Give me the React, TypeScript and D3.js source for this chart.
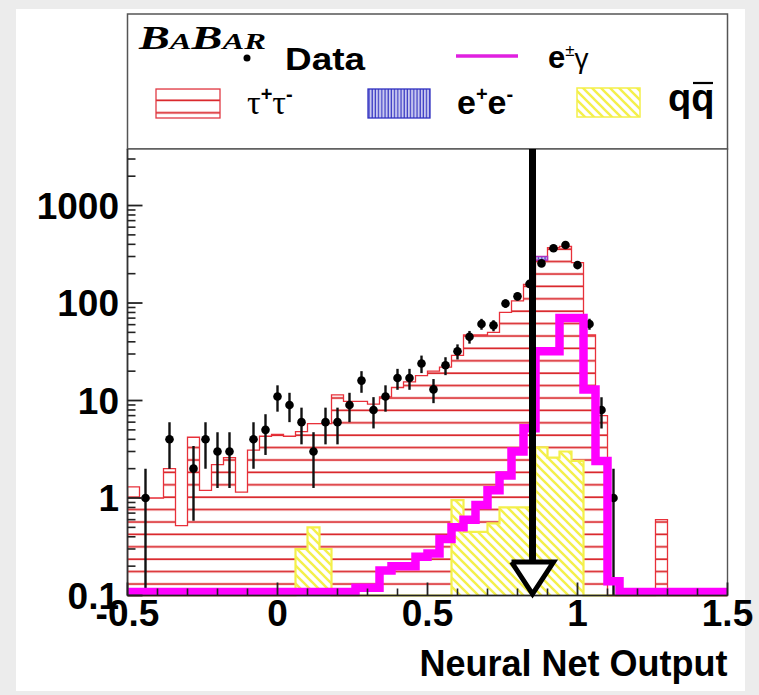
import React from "react";
import * as d3 from "d3";

// ---------- data ----------
const binStart = -0.5;
const binWidth = 0.04;

// tau+tau- MC (red, horizontal hatch), 50 bins of 0.04 from -0.5 to 1.5
const tauValues = [
  1.3, 1.0, 1.0, 2.0, 0.52, 4.2, 1.2, 2.2, 2.6, 1.15,
  3.1, 4.3, 4.5, 4.3, 4.8, 5.8, 5.8, 11.4, 9.8, 9.8,
  9.2, 10.9, 13.6, 15.5, 18, 20, 22, 29, 47, 47,
  50, 80, 105, 155, 275, 370, 380, 260, 47, 7,
  0, 0, 0, 0, 0.6, 0, 0, 0, 0, 0,
];
// e+e- MC stacked on top of tau (blue, vertical hatch)
const eeValues = [
  0, 0, 0, 0, 0, 0, 0, 0, 0, 0,
  0, 0, 0, 0, 0, 0, 0, 0, 0, 0,
  0, 0, 0, 0, 0, 0, 0, 0, 0, 0,
  0, 0, 0, 0, 25, 0, 0, 0, 0, 0,
  0, 0, 0, 0, 0, 0, 0, 0, 0, 0,
];
// q qbar MC (yellow, diagonal hatch)
const qqValues = [
  0, 0, 0, 0, 0, 0, 0, 0, 0, 0,
  0, 0, 0, 0, 0.3, 0.5, 0.3, 0, 0, 0,
  0, 0, 0, 0, 0, 0, 0, 0.95, 0.45, 0.45,
  0.55, 0.8, 0.8, 0.8, 3.3, 2.6, 3.0, 2.4, 0, 0,
  0, 0, 0, 0, 0, 0, 0, 0, 0, 0,
];
// e gamma signal (magenta thick line)
const eGammaValues = [
  0.1, 0.1, 0.1, 0.1, 0.1, 0.1, 0.1, 0.1, 0.1, 0.1,
  0.1, 0.1, 0.1, 0.1, 0.1, 0.1, 0.1, 0.1, 0.1, 0.12,
  0.12, 0.18, 0.2, 0.2, 0.25, 0.27, 0.38, 0.5, 0.6, 0.85,
  1.2, 1.7, 3.0, 5.2, 32, 32, 70, 70, 13, 2.4,
  0.14, 0.1, 0.1, 0.1, 0.1, 0.1, 0.1, 0.1, 0.1, 0.1,
];
// Data counts (0 = no entry)
const dataCounts = [
  0, 1, 0, 4, 0, 2, 4, 3, 3, 0,
  4, 5, 11, 9, 6, 3, 6, 6, 9, 16,
  8, 11, 17, 17, 24, 13, 23, 32, 45, 61,
  59, 99, 117, 157, 255, 364, 393, 245, 61, 8,
  1, 0, 0, 0, 0, 0, 0, 0, 0, 0,
];

const xTickValues = [-0.5, 0, 0.5, 1, 1.5];
const xTickLabels = ["-0.5", "0", "0.5", "1", "1.5"];
const yTickValues = [0.1, 1, 10, 100, 1000];
const yTickLabels = ["0.1", "1", "10", "100", "1000"];
const cutValue = 0.85;
const xTitle = "Neural Net Output";

// ---------- layout ----------
const W = 759;
const H = 695;
const frame = { left: 127.5, right: 727.5, top: 149, bottom: 595.5 };
const legendTop = 14;
const FONT = "'Liberation Sans', Arial, Helvetica, sans-serif";
const SERIF = "'Liberation Serif', 'Times New Roman', serif";

export default function App() {
  const x = d3.scaleLinear().domain([-0.5, 1.5]).range([frame.left, frame.right]);
  const y = d3.scaleLog().domain([0.1, 3800]).range([frame.bottom, frame.top]);
  const yc = (v: number) => (v <= 0.1 ? frame.bottom : Math.max(frame.top, y(v)));
  const edge = (i: number) => x(binStart + i * binWidth);
  const center = (i: number) => x(binStart + (i + 0.5) * binWidth);

  const line = d3.line<[number, number]>();

  const stepArea = (vals: number[]) => {
    const pts: [number, number][] = [[edge(0), frame.bottom]];
    vals.forEach((v, i) => {
      pts.push([edge(i), yc(v)]);
      pts.push([edge(i + 1), yc(v)]);
    });
    pts.push([edge(vals.length), frame.bottom]);
    return line(pts) as string;
  };

  const pinkPts: [number, number][] = [];
  eGammaValues.forEach((v, i) => {
    const yy = Math.min(yc(v), frame.bottom - 3.5);
    pinkPts.push([edge(i), yy]);
    pinkPts.push([edge(i + 1), yy]);
  });

  const yMinor: number[] = [];
  yTickValues.forEach((d) => {
    for (let m = 2; m <= 9; m++) if (d * m <= 3800) yMinor.push(d * m);
  });
  const xMinor = d3.range(-4, 15).map((k) => k / 10).filter((v) => Math.abs(v * 2 - Math.round(v * 2)) > 1e-6);

  const cx = x(cutValue);

  return (
    <svg
      width={W}
      height={H}
      style={{ position: "absolute", left: 0, top: 0 }}
      xmlns="http://www.w3.org/2000/svg"
    >
      <defs>
        <pattern id="hatchRed" patternUnits="userSpaceOnUse" width={10} height={12.4}>
          <line x1={0} x2={10} y1={1.2} y2={1.2} stroke="#d81e22" strokeWidth={1.7} />
        </pattern>
        <pattern id="hatchYellow" patternUnits="userSpaceOnUse" width={9} height={9}>
          <rect width={9} height={9} fill="#ffffff" />
          <line x1={-1} y1={-1} x2={10} y2={10} stroke="#f4f04a" strokeWidth={2.4} />
          <line x1={-1} y1={8} x2={1} y2={10} stroke="#f4f04a" strokeWidth={2.4} />
          <line x1={8} y1={-1} x2={10} y2={1} stroke="#f4f04a" strokeWidth={2.4} />
        </pattern>
        <pattern id="hatchBlue" patternUnits="userSpaceOnUse" width={3.2} height={10}>
          <rect width={3.2} height={10} fill="#c8c8f0" />
          <line x1={1} x2={1} y1={0} y2={10} stroke="#3030c0" strokeWidth={1.1} />
        </pattern>
        <clipPath id="frameClip">
          <rect x={frame.left} y={frame.top} width={frame.right - frame.left} height={frame.bottom - frame.top + 6} />
        </clipPath>
      </defs>

      {/* page background */}
      <rect x={0} y={0} width={W} height={H} fill="#ececec" />
      <rect x={16} y={9} width={729} height={682} fill="#ffffff" />

      {/* legend box */}
      <rect x={frame.left} y={legendTop} width={frame.right - frame.left} height={frame.top - legendTop} fill="#fff" stroke="#555" strokeWidth={1.5} />
      <text x={139} y={49} fontFamily={SERIF} fontStyle="italic" fontWeight="bold" textLength={127} lengthAdjust="spacingAndGlyphs">
        <tspan fontSize={34}>B</tspan>
        <tspan fontSize={24}>A</tspan>
        <tspan fontSize={34}>B</tspan>
        <tspan fontSize={24}>AR</tspan>
      </text>
      <circle cx={247} cy={58} r={3.5} fill="#000" />
      <text x={285} y={70} fontFamily={FONT} fontWeight="bold" fontSize={31} textLength={80} lengthAdjust="spacingAndGlyphs">Data</text>
      <line x1={456} x2={518} y1={56} y2={56} stroke="#e020e0" strokeWidth={3.5} />
      <text x={548} y={68} fontFamily={FONT} fontWeight="bold" fontSize={31}>
        e<tspan fontSize={17} dy={-12} fontWeight="normal">±</tspan>
        <tspan fontSize={28} dy={12} fontWeight="normal">γ</tspan>
      </text>

      <rect x={156} y={89} width={64} height={29} fill="url(#hatchRed)" stroke="#e03a44" strokeWidth={1.3} />
      <text x={247} y={114} fontFamily={SERIF} fontSize={34}>
        τ<tspan fontSize={20} dy={-13} fontFamily={FONT} fontWeight="bold">+</tspan>
        <tspan dy={13}>τ</tspan>
        <tspan fontSize={20} dy={-13} fontFamily={FONT} fontWeight="bold">-</tspan>
      </text>
      <rect x={368} y={89} width={62} height={29} fill="url(#hatchBlue)" stroke="#3030c0" strokeWidth={1.3} />
      <text x={457} y={114} fontFamily={FONT} fontWeight="bold" fontSize={34}>
        e<tspan fontSize={20} dy={-13}>+</tspan>
        <tspan dy={13}>e</tspan>
        <tspan fontSize={20} dy={-13}>-</tspan>
      </text>
      <rect x={577} y={88} width={63} height={29} fill="url(#hatchYellow)" stroke="#f4f04a" strokeWidth={1.5} />
      <text x={668} y={111} fontFamily={FONT} fontWeight="bold" fontSize={38}>qq</text>
      <line x1={693} x2={713} y1={83} y2={83} stroke="#000" strokeWidth={2.2} />

      {/* plot frame background */}
      <rect x={frame.left} y={frame.top} width={frame.right - frame.left} height={frame.bottom - frame.top} fill="#fff" />

      <g clipPath="url(#frameClip)">
        {/* tau+tau- */}
        <path d={stepArea(tauValues)} fill="url(#hatchRed)" stroke="none" />
        <path d={stepArea(tauValues)} fill="none" stroke="#e8303a" strokeWidth={1.3} />
        {/* e+e- stacked */}
        {eeValues.map((v, i) =>
          v > 0 ? (
            <rect key={"ee" + i} x={edge(i)} width={edge(i + 1) - edge(i)} y={yc(tauValues[i] + v)} height={yc(tauValues[i]) - yc(tauValues[i] + v)} fill="url(#hatchBlue)" stroke="#b030c0" strokeWidth={1.5} />
          ) : null
        )}
        {/* q qbar */}
        <path d={stepArea(qqValues)} fill="url(#hatchYellow)" stroke="none" />
        <path d={stepArea(qqValues)} fill="none" stroke="#f4f04a" strokeWidth={2.2} />

        {/* data */}
        {dataCounts.map((c, i) => {
          if (c <= 0) return null;
          const e = Math.sqrt(c);
          const yTop = yc(c + e);
          const yBot = c - e > 0.1 ? y(c - e) : frame.bottom;
          return (
            <g key={"d" + i}>
              <line x1={center(i)} x2={center(i)} y1={yTop} y2={yBot} stroke="#111" strokeWidth={2.4} />
              <circle cx={center(i)} cy={y(c)} r={4.3} fill="#000" />
            </g>
          );
        })}

        {/* e gamma */}
        <path d={line(pinkPts) as string} fill="none" stroke="#ff00ff" strokeWidth={8.5} strokeLinejoin="miter" />
      </g>

      {/* frame */}
      <rect x={frame.left} y={frame.top} width={frame.right - frame.left} height={frame.bottom - frame.top} fill="none" stroke="#555" strokeWidth={1.4} />
      <line x1={frame.left} x2={frame.right} y1={frame.bottom} y2={frame.bottom} stroke="#222" strokeWidth={1.6} />
      <line x1={frame.left} x2={frame.left} y1={frame.top} y2={frame.bottom} stroke="#333" strokeWidth={1.6} />

      {/* y ticks */}
      {yTickValues.map((v) => (
        <line key={"ym" + v} x1={frame.left} x2={frame.left + 15} y1={y(v)} y2={y(v)} stroke="#222" strokeWidth={1.8} />
      ))}
      {yMinor.map((v) => (
        <line key={"yn" + v} x1={frame.left} x2={frame.left + 8} y1={y(v)} y2={y(v)} stroke="#222" strokeWidth={1.6} />
      ))}
      {yTickValues.map((v, i) => (
        <text key={"yl" + v} x={119} y={y(v) + 13} textAnchor="end" fontFamily={FONT} fontWeight="bold" fontSize={37}>
          {yTickLabels[i]}
        </text>
      ))}

      {/* x ticks */}
      {xTickValues.map((v) => (
        <line key={"xm" + v} x1={x(v)} x2={x(v)} y1={frame.bottom} y2={frame.bottom - 13} stroke="#222" strokeWidth={1.8} />
      ))}
      {xMinor.map((v) => (
        <line key={"xn" + v} x1={x(v)} x2={x(v)} y1={frame.bottom} y2={frame.bottom - 7} stroke="#222" strokeWidth={1.6} />
      ))}
      {xTickLabels.map((lab, i) => (
        <text key={"xl" + lab} x={x(xTickValues[i])} y={626} textAnchor="middle" fontFamily={FONT} fontWeight="bold" fontSize={37}>
          {lab}
        </text>
      ))}
      <text x={frame.right} y={676} textAnchor="end" fontFamily={FONT} fontWeight="bold" fontSize={36}>
        {xTitle}
      </text>

      {/* cut arrow */}
      <line x1={cx} x2={cx} y1={frame.top} y2={562} stroke="#000" strokeWidth={7} />
      <path d={line([[cx - 21, 562], [cx + 21, 562], [cx, 594], [cx - 21, 562]]) as string} fill="#fff" stroke="#000" strokeWidth={5} strokeLinejoin="miter" />
    </svg>
  );
}
